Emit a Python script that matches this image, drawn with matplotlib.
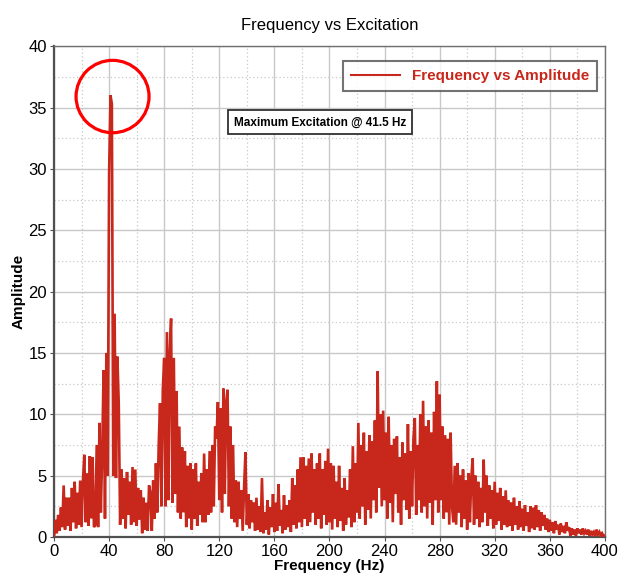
import matplotlib
matplotlib.use('Agg')
import matplotlib.pyplot as plt
from matplotlib.patches import Ellipse
from matplotlib.ticker import MultipleLocator
import numpy as np

plt.rcParams['font.family'] = ['Liberation Sans', 'DejaVu Sans']

# amplitude, one value per Hz (0 .. 400 Hz)
amplitude = [
    0.0, 1.4, 0.3, 1.8, 0.5, 2.4, 0.8, 4.2, 0.6, 3.2,      # 0
    0.9, 3.2, 0.5, 4.0, 1.2, 4.5, 0.7, 3.6, 1.0, 4.6,      # 10
    0.8, 4.6, 6.7, 1.2, 5.2, 0.9, 6.6, 1.5, 6.5, 0.8,      # 20
    1.0, 7.5, 0.8, 9.3, 2.0, 7.0, 13.6, 1.5, 15.0, 5.0,    # 30
    29.7, 36.0, 35.3, 5.0, 18.2, 4.8, 14.7, 10.9, 1.0, 5.5, # 40
    1.5, 4.8, 0.7, 5.3, 1.8, 4.5, 1.0, 5.7, 1.2, 5.5,      # 50
    0.9, 4.0, 1.4, 3.8, 0.3, 3.2, 0.6, 2.8, 0.5, 4.2,      # 60
    3.6, 0.5, 4.6, 1.5, 6.0, 2.0, 7.5, 10.9, 2.5, 12.0,    # 70
    14.6, 2.5, 16.7, 3.0, 15.0, 17.8, 2.8, 14.6, 3.5, 11.9, # 80
    2.0, 9.0, 1.5, 7.3, 2.0, 7.0, 0.8, 5.8, 1.5, 6.0,      # 90
    0.6, 5.5, 1.5, 6.0, 0.9, 4.5, 1.8, 5.2, 1.2, 6.8,      # 100
    1.2, 5.5, 1.8, 7.0, 2.0, 7.5, 2.5, 9.0, 8.0, 11.0,     # 110
    3.0, 10.5, 2.0, 12.1, 3.5, 11.0, 12.0, 2.5, 9.0, 1.5,  # 120
    7.5, 1.2, 4.6, 0.8, 4.5, 1.5, 3.8, 0.5, 4.0, 6.9,      # 130
    1.0, 3.5, 0.7, 3.0, 1.2, 2.8, 0.5, 3.2, 0.6, 2.5,      # 140
    0.4, 4.8, 0.3, 2.0, 0.6, 3.0, 0.2, 2.4, 0.8, 3.5,      # 150
    0.4, 2.8, 0.5, 4.3, 0.9, 2.2, 0.3, 3.4, 0.6, 2.6,      # 160
    0.8, 3.0, 0.4, 4.8, 1.0, 4.2, 0.7, 5.5, 1.2, 6.5,      # 170
    0.8, 6.5, 1.5, 5.8, 0.9, 6.4, 1.2, 6.8, 2.0, 5.5,      # 180
    1.0, 6.0, 1.5, 6.8, 0.7, 5.5, 1.8, 6.2, 1.0, 7.2,      # 190
    1.2, 6.0, 0.6, 5.8, 1.5, 4.5, 0.8, 5.8, 1.3, 4.0,      # 200
    0.5, 4.8, 1.0, 3.8, 1.6, 5.5, 0.8, 7.4, 1.2, 6.0,      # 210
    2.0, 9.3, 1.5, 7.5, 2.5, 8.5, 1.0, 7.0, 2.2, 8.3,      # 220
    1.5, 7.8, 3.0, 9.5, 2.0, 13.5, 4.0, 10.0, 2.5, 10.3,   # 230
    3.0, 8.5, 1.5, 9.8, 2.8, 7.5, 1.2, 8.0, 3.5, 8.2,      # 240
    2.0, 6.5, 1.0, 7.7, 3.0, 6.8, 2.2, 9.2, 1.5, 7.0,      # 250
    2.5, 8.0, 9.7, 1.8, 7.5, 3.0, 10.0, 2.0, 11.1, 2.5,    # 260
    9.0, 1.5, 9.5, 2.8, 8.5, 1.0, 10.2, 3.0, 12.7, 2.0,    # 270
    11.6, 3.0, 9.0, 1.5, 8.3, 2.0, 8.0, 1.0, 8.5, 2.5,     # 280
    1.2, 5.8, 1.0, 6.0, 2.0, 5.0, 0.8, 5.5, 1.5, 4.6,      # 290
    0.6, 5.2, 1.2, 4.8, 6.4, 1.0, 5.0, 1.5, 4.5, 0.8,      # 300
    4.0, 1.2, 6.3, 2.0, 5.0, 0.9, 4.2, 1.5, 3.8, 0.7,      # 310
    4.5, 1.0, 3.6, 1.3, 4.0, 0.6, 3.3, 1.0, 3.8, 0.8,      # 320
    3.0, 0.9, 2.8, 0.5, 3.2, 1.0, 2.5, 0.6, 2.9, 0.8,      # 330
    2.3, 0.5, 2.6, 0.9, 2.0, 0.4, 2.5, 0.7, 2.4, 0.6,      # 340
    2.6, 0.8, 2.2, 0.5, 2.0, 0.9, 1.8, 0.6, 1.5, 0.4,      # 350
    1.4, 0.5, 1.2, 0.3, 1.3, 0.6, 1.0, 0.2, 1.1, 0.4,      # 360
    0.9, 0.3, 1.2, 0.5, 0.8, 0.1, 0.7, 0.2, 0.6, 0.1,      # 370
    0.7, 0.3, 0.6, 0.2, 0.7, 0.3, 0.5, 0.2, 0.6, 0.1,      # 380
    0.5, 0.2, 0.4, 0.1, 0.6, 0.2, 0.4, 0.1, 0.3, 0.1,      # 390
    0.1,                                                   # 400
]
frequency = np.arange(len(amplitude))  # 1 Hz bins

peak_freq = 41.5
peak_amp = 36.0
note_text = 'Maximum Excitation @ 41.5 Hz'

line_color = '#C8281C'
grid_color = '#C8C8C8'

fig = plt.figure(figsize=(6.21, 5.78), dpi=100)
ax = fig.add_axes([0.087, 0.071, 0.887, 0.849])

ax.plot(frequency, amplitude, color=line_color, linewidth=1.9,
        solid_joinstyle='miter', label='Frequency vs Amplitude', zorder=3)

ax.set_xlim(0, 400)
ax.set_ylim(0, 40)
ax.xaxis.set_major_locator(MultipleLocator(40))
ax.xaxis.set_minor_locator(MultipleLocator(20))
ax.yaxis.set_major_locator(MultipleLocator(5))
ax.yaxis.set_minor_locator(MultipleLocator(2.5))
ax.grid(which='major', color=grid_color, linewidth=1.0, linestyle='-')
ax.grid(which='minor', color=grid_color, linewidth=0.9, linestyle=(0, (1, 2)))
ax.set_axisbelow(True)

for side in ['left', 'bottom']:
    ax.spines[side].set_color('#505050')
    ax.spines[side].set_linewidth(1.6)
for side in ['right', 'top']:
    ax.spines[side].set_color('#707070')
    ax.spines[side].set_linewidth(1.0)

ax.tick_params(which='major', labelsize=12, length=3, color='#505050', pad=2)
ax.tick_params(which='minor', length=0)

ax.set_title('Frequency vs Excitation', fontsize=12, pad=12)
ax.set_xlabel('Frequency (Hz)', fontsize=11, fontweight='bold', labelpad=0)
ax.set_ylabel('Amplitude', fontsize=11, fontweight='bold', labelpad=2)

leg = ax.legend(loc='upper right', fontsize=11, frameon=True, fancybox=False,
                handlelength=3.2, borderpad=0.5, bbox_to_anchor=(0.999, 0.985))
leg.get_frame().set_edgecolor('#505050')
leg.get_frame().set_linewidth(1.5)
leg.get_lines()[0].set_linewidth(1.5)
for t in leg.get_texts():
    t.set_color(line_color)
    t.set_fontweight('bold')

# highlight the maximum
ax.add_patch(Ellipse((peak_freq + 1.0, peak_amp - 0.1), 53, 5.9, fill=False,
                     edgecolor='#FF0000', linewidth=2.3, zorder=5))

ax.text(193, 33.8, note_text, fontsize=8.5, fontweight='bold', ha='center',
        va='center', zorder=6,
        bbox=dict(boxstyle='square,pad=0.5', facecolor='white',
                  edgecolor='#303030', linewidth=1.3))

fig.savefig('out.png', dpi=100)
